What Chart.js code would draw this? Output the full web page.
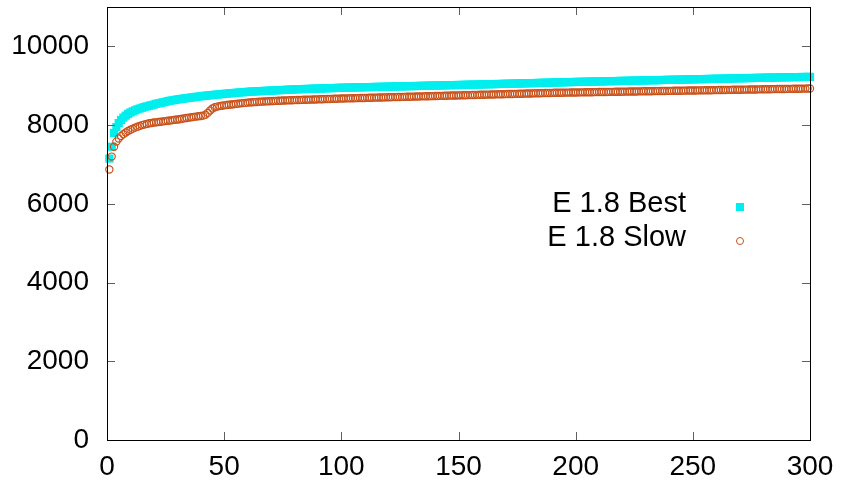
<!DOCTYPE html>
<html>
<head>
<meta charset="utf-8">
<script src="https://cdn.jsdelivr.net/npm/chart.js@4/dist/chart.umd.min.js"></script>
<style>
html,body{margin:0;padding:0;background:#fff;}
canvas{display:block;}
</style>
</head>
<body>
<canvas id="c" width="841" height="486"></canvas>
<script>
// x runs from 1 to 300 (one value per step)
const seriesNames = ["E 1.8 Best", "E 1.8 Slow"];
const xTicks = [0, 50, 100, 150, 200, 250, 300];
const yTicks = [0, 2000, 4000, 6000, 8000, 10000];

const bestValues = [
7150,7450,7800,7950,8050,8130,8190,8240,8285,8320,
8350,8375,8400,8420,8440,8460,8475,8490,8505,8520,
8540,8553,8566,8579,8592,8610,8620,8630,8640,8650,
8660,8668,8676,8684,8692,8700,8708,8716,8724,8732,
8740,8746,8752,8758,8764,8770,8776,8782,8788,8794,
8800,8805,8810,8815,8820,8825,8830,8835,8840,8845,
8850,8853,8856,8859,8862,8865,8868,8871,8874,8877,
8880,8883,8886,8889,8892,8895,8898,8901,8904,8907,
8910,8912,8914,8916,8918,8920,8922,8924,8926,8928,
8930,8932,8934,8936,8938,8940,8942,8944,8946,8948,
8950,8951,8953,8954,8956,8957,8958,8960,8961,8963,
8964,8965,8967,8968,8970,8971,8972,8974,8975,8977,
8978,8979,8981,8982,8984,8985,8986,8988,8989,8991,
8992,8993,8995,8996,8998,8999,9000,9002,9003,9005,
9006,9008,9009,9011,9012,9014,9015,9016,9018,9019,
9020,9022,9023,9025,9026,9028,9029,9031,9032,9034,
9035,9037,9038,9040,9041,9043,9044,9046,9047,9049,
9050,9052,9053,9055,9056,9058,9060,9061,9063,9064,
9066,9068,9069,9071,9072,9074,9076,9077,9079,9080,
9082,9084,9085,9087,9088,9090,9092,9093,9095,9096,
9098,9099,9100,9102,9103,9104,9106,9107,9108,9110,
9111,9112,9114,9115,9116,9118,9119,9120,9122,9123,
9124,9126,9127,9128,9130,9131,9132,9134,9135,9136,
9138,9139,9140,9142,9143,9144,9146,9147,9148,9150,
9151,9152,9154,9155,9156,9158,9159,9160,9162,9163,
9164,9166,9167,9168,9170,9171,9172,9174,9175,9176,
9178,9179,9180,9182,9183,9184,9186,9187,9188,9190,
9191,9192,9194,9195,9196,9198,9199,9200,9202,9203,
9204,9205,9207,9208,9209,9210,9212,9213,9214,9215,
9216,9217,9218,9219,9220,9221,9222,9223,9224,9225
];

const slowValues = [
6870,7200,7450,7580,7660,7720,7770,7810,7850,7880,
7910,7935,7960,7980,8000,8015,8030,8045,8055,8065,
8070,8078,8086,8094,8102,8110,8118,8126,8134,8142,
8150,8160,8170,8180,8190,8200,8208,8216,8224,8232,
8240,8265,8310,8370,8420,8455,8470,8482,8492,8502,
8510,8517,8524,8531,8538,8545,8552,8558,8564,8570,
8576,8580,8584,8588,8592,8596,8599,8602,8605,8608,
8611,8614,8617,8620,8623,8626,8628,8630,8632,8634,
8636,8638,8640,8642,8644,8646,8648,8650,8652,8654,
8656,8658,8660,8662,8664,8666,8668,8670,8672,8674,
8676,8678,8679,8681,8682,8684,8686,8687,8689,8690,
8692,8694,8695,8697,8698,8700,8702,8703,8705,8706,
8708,8710,8711,8713,8714,8716,8718,8719,8721,8722,
8724,8726,8727,8729,8730,8732,8734,8735,8737,8738,
8740,8742,8743,8745,8746,8748,8750,8751,8753,8754,
8756,8758,8759,8761,8762,8764,8766,8767,8769,8770,
8772,8774,8775,8777,8778,8780,8782,8783,8785,8786,
8788,8790,8791,8793,8794,8796,8798,8799,8801,8802,
8804,8806,8807,8809,8810,8812,8814,8815,8817,8818,
8820,8821,8822,8823,8824,8825,8826,8827,8828,8829,
8830,8831,8832,8833,8834,8835,8836,8837,8838,8839,
8840,8841,8842,8843,8844,8845,8846,8847,8848,8849,
8850,8851,8852,8853,8854,8855,8856,8857,8858,8859,
8860,8861,8862,8863,8864,8865,8866,8867,8868,8869,
8870,8871,8872,8873,8874,8875,8876,8877,8878,8879,
8880,8881,8882,8883,8884,8885,8886,8887,8888,8889,
8890,8891,8892,8893,8894,8895,8896,8897,8898,8899,
8900,8901,8902,8903,8904,8905,8906,8907,8908,8909,
8910,8911,8912,8913,8914,8915,8916,8917,8918,8919,
8920,8921,8922,8923,8924,8925,8926,8927,8928,8929
];

const FONT = '"Liberation Sans", Arial, Helvetica, sans-serif';
const CYAN = '#00eeee';
const ORANGE = '#c8521a';

function toPoints(arr){ return arr.map((v,i)=>({x:i+1, y:v})); }

const frameAndTicks = {
  id: 'frameAndTicks',
  afterDatasetsDraw(chart){
    const ctx = chart.ctx, a = chart.chartArea;
    const xs = chart.scales.x, ys = chart.scales.y;
    const L = 8;
    ctx.save();
    ctx.strokeStyle = '#606060';
    ctx.lineWidth = 1;
    ctx.beginPath();
    yTicks.forEach(v=>{
      const py = Math.round(ys.getPixelForValue(v)) + 0.5;
      ctx.moveTo(a.left, py); ctx.lineTo(a.left + L, py);
      ctx.moveTo(a.right, py); ctx.lineTo(a.right - L, py);
    });
    xTicks.forEach(v=>{
      const px = Math.round(xs.getPixelForValue(v)) + 0.5;
      ctx.moveTo(px, a.bottom); ctx.lineTo(px, a.bottom - L);
      ctx.moveTo(px, a.top); ctx.lineTo(px, a.top + L);
    });
    ctx.stroke();
    ctx.strokeStyle = '#000';
    ctx.strokeRect(Math.round(a.left)+0.5, Math.round(a.top)+0.5,
                   Math.round(a.right)-Math.round(a.left), Math.round(a.bottom)-Math.round(a.top));
    ctx.restore();
  }
};

const keyPlugin = {
  id: 'gnuKey',
  afterDraw(chart){
    const ctx = chart.ctx;
    const textRight = 686, markX = 740;
    const rows = [207, 241];
    ctx.save();
    ctx.font = '29px ' + FONT;
    ctx.fillStyle = '#000';
    ctx.textAlign = 'right';
    ctx.textBaseline = 'middle';
    chart.data.datasets.forEach((ds, i)=>{
      const y = rows[i];
      ctx.fillText(ds.label, textRight, y - 3);
      if (ds.pointStyle === 'rect') {
        ctx.fillStyle = ds.backgroundColor;
        ctx.fillRect(markX - 4, y - 4, 8, 8);
        ctx.fillStyle = '#000';
      } else {
        ctx.strokeStyle = ds.borderColor;
        ctx.lineWidth = 1;
        ctx.beginPath();
        ctx.arc(markX, y, 3.5, 0, Math.PI*2);
        ctx.stroke();
      }
    });
    ctx.restore();
  }
};

new Chart(document.getElementById('c'), {
  type: 'scatter',
  data: {
    datasets: [
      { label: seriesNames[0], data: toPoints(bestValues), pointStyle: 'rect', pointRadius: 5.8,
        backgroundColor: CYAN, borderColor: CYAN, borderWidth: 0, showLine: false, clip: false, order: 2 },
      { label: seriesNames[1], data: toPoints(slowValues), pointStyle: 'circle', pointRadius: 3.6,
        backgroundColor: 'rgba(0,0,0,0)', borderColor: ORANGE, borderWidth: 1.2, showLine: false, clip: false, order: 1 }
    ]
  },
  options: {
    responsive: false,
    animation: false,
    events: [],
    layout: { padding: { top: 7, right: 31, left: 0, bottom: 0 } },
    plugins: { legend: { display: false }, tooltip: { enabled: false } },
    scales: {
      x: {
        type: 'linear', min: 0, max: 300,
        grid: { display: false, drawTicks: false },
        border: { display: false },
        afterFit(s){ s.height = 46; s.paddingLeft = 0; s.paddingRight = 0; },
        afterBuildTicks(s){ s.ticks = xTicks.map(v=>({value:v})); },
        ticks: { color: '#000', font: { family: FONT, size: 28 }, padding: 10, maxRotation: 0,
                 callback: v => String(v) }
      },
      y: {
        type: 'linear', min: 0, max: 11000,
        grid: { display: false, drawTicks: false },
        border: { display: false },
        afterFit(s){ s.width = 107; s.paddingTop = 0; s.paddingBottom = 0; },
        afterBuildTicks(s){ s.ticks = yTicks.map(v=>({value:v})); },
        ticks: { color: '#000', font: { family: FONT, size: 28 }, padding: 18,
                 callback: v => String(v) }
      }
    }
  },
  plugins: [frameAndTicks, keyPlugin]
});
</script>
</body>
</html>
